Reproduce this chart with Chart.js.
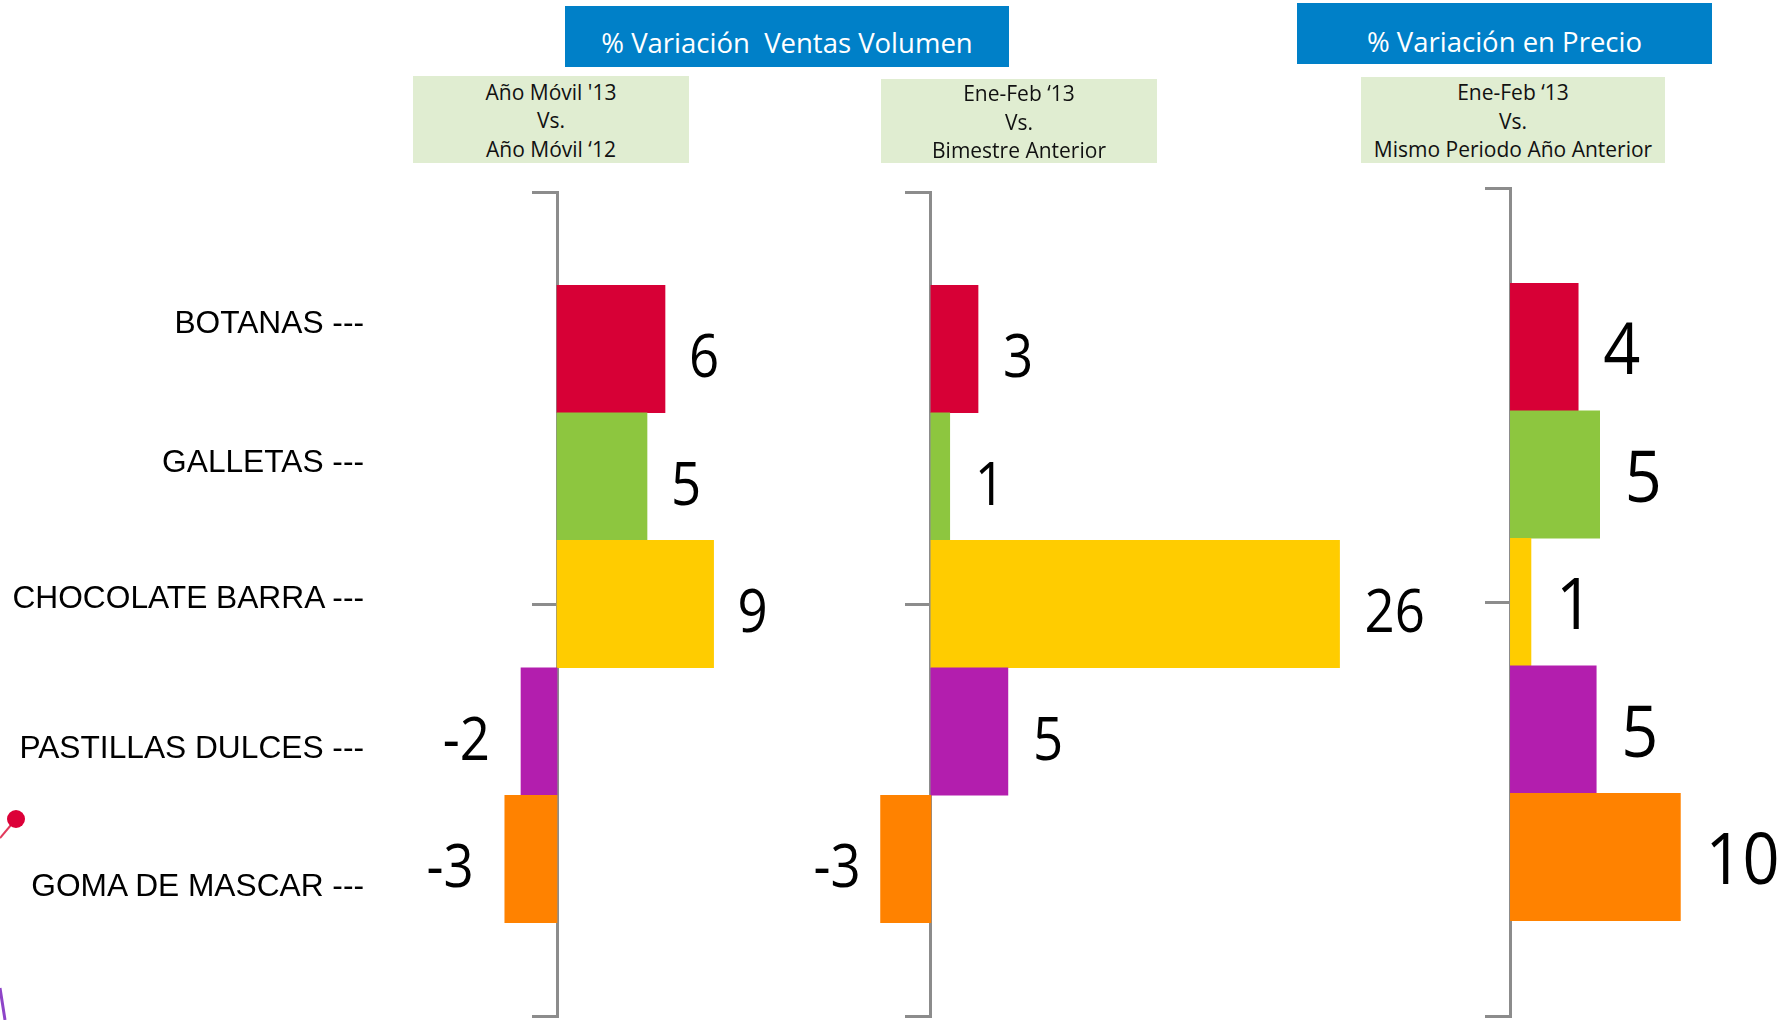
<!DOCTYPE html>
<html lang="es">
<head>
<meta charset="utf-8">
<title>% Variación Ventas Volumen y Precio</title>
<script src="https://cdn.jsdelivr.net/npm/chart.js@4.4.1/dist/chart.umd.min.js"></script>
<style>
    html, body { margin: 0; padding: 0; background: #fff; }
    #pagina { position: relative; width: 1784px; height: 1020px; overflow: hidden; font-family: 'Open Sans', sans-serif; }
    #pagina canvas { position: absolute; left: 0; top: 0; }
    .titulo { position: absolute; background: #0080c8; color: #fff; font-size: 27.5px; }
    .titulo span { position: absolute; left: 0; right: 0; text-align: center; line-height: 30px; white-space: pre; }
    .periodo { position: absolute; background: #e0edd1; color: #111; font-size: 21px; line-height: 28.5px; text-align: center; white-space: nowrap; }
    .cat { position: absolute; right: 1420px; font-family: 'Liberation Sans', Arial, sans-serif; font-size: 31.7px; line-height: 36px; white-space: nowrap; color: #000; }
    #deco { position: absolute; left: 0; top: 0; }
</style>
</head>
<body>
<div id="pagina">
    <svg id="deco" width="40" height="1020">
        <line x1="16" y1="819" x2="0" y2="838" stroke="#e23a5c" stroke-width="2"/>
        <circle cx="16" cy="819" r="9" fill="#dc0038"/>
        <line x1="0" y1="988" x2="5" y2="1020" stroke="#8e44c8" stroke-width="3"/>
    </svg>
    <canvas id="c1" width="1784" height="1020"></canvas>
    <canvas id="c2" width="1784" height="1020"></canvas>
    <canvas id="c3" width="1784" height="1020"></canvas>
</div>
<script>
/* ==========================================================================
   % variación volumen y precio por categoría · 3 paneles de barras horizontales
   ========================================================================== */
var categorias = ['BOTANAS', 'GALLETAS', 'CHOCOLATE BARRA', 'PASTILLAS DULCES', 'GOMA DE MASCAR'];

var volumenAnual = [6, 5, 8.7, -2, -2.9];
var volumenBimestre = [3, 1.2, 26, 4.9, -3.2];
var precioAnual = [3.95, 5.2, 1.2, 5, 9.9];

var titulos = ['% Variación  Ventas Volumen', '% Variación en Precio'];
var periodos = [
    ["Año Móvil '13", 'Vs.', 'Año Móvil ‘12'],
    ['Ene-Feb ‘13', 'Vs.', 'Bimestre Anterior'],
    ['Ene-Feb ‘13', 'Vs.', 'Mismo Periodo Año Anterior']
];

var colores = ['#d70036', '#8dc63f', '#ffcc00', '#b31eae', '#ff8200'];
var GRIS = '#8c8c8c';
var BANDA = 127.5; // alto de cada barra en px

(function () {
    function $(id) { return document.getElementById(id); }
    var pagina = $('pagina');

    // --- cajas de texto de encabezado
    var cajasTitulo = [
        { left: 565, top: 6, width: 444, height: 61, texto: 28 },
        { left: 1297, top: 3, width: 415, height: 61, texto: 27 }
    ];
    cajasTitulo.forEach(function (c, i) {
        var d = document.createElement('div');
        d.className = 'titulo';
        d.style.cssText += 'left:' + c.left + 'px;top:' + c.top + 'px;width:' + c.width + 'px;height:' + c.height + 'px;';
        var s = document.createElement('span');
        s.style.top = (c.texto - c.top) + 'px';
        s.textContent = titulos[i];
        d.appendChild(s);
        pagina.appendChild(d);
    });

    var cajasPeriodo = [
        { left: 413, top: 76, width: 276, height: 87, pad: 1.5 },
        { left: 881, top: 79, width: 276, height: 84, pad: 0 },
        { left: 1361, top: 77, width: 304, height: 86, pad: 1 }
    ];
    cajasPeriodo.forEach(function (c, i) {
        var d = document.createElement('div');
        d.className = 'periodo';
        d.style.cssText += 'left:' + c.left + 'px;top:' + c.top + 'px;width:' + c.width + 'px;height:' + (c.height - c.pad) + 'px;padding-top:' + c.pad + 'px;';
        d.innerHTML = periodos[i].join('<br>');
        pagina.appendChild(d);
    });

    // --- nombres de categoría (cajas de texto sueltas, no alineadas a las barras)
    var centrosCat = [322, 461, 597, 747, 885];
    categorias.forEach(function (nombre, i) {
        var d = document.createElement('div');
        d.className = 'cat';
        d.style.top = (centrosCat[i] - 18) + 'px';
        d.textContent = nombre + ' ---';
        pagina.appendChild(d);
    });

    // --- etiquetas de valor junto al extremo de cada barra (algo angostas, como Calibri)
    var etiquetas = {
        id: 'etiquetas',
        afterDatasetsDraw: function (chart) {
            var e = chart.options.plugins.etiquetas;
            var ctx = chart.ctx;
            var meta = chart.getDatasetMeta(0);
            var datos = chart.data.datasets[0].data;
            ctx.save();
            ctx.font = e.size + 'px "Open Sans"';
            ctx.fillStyle = '#000';
            ctx.textBaseline = 'alphabetic';
            meta.data.forEach(function (bar, i) {
                var v = datos[i].x;
                var neg = v < 0;
                ctx.save();
                ctx.translate(bar.x + (neg ? -e.gapNeg : e.gap), bar.y + e.dy);
                ctx.scale(e.ancho, 1);
                ctx.textAlign = neg ? 'right' : 'left';
                ctx.fillText(String(Math.round(v)), 0, 0);
                ctx.restore();
            });
            ctx.restore();
        }
    };

    var paneles = [
        { id: 'c1', valores: volumenAnual, xMin: -9, xMax: 13, area: { left: 395, right: 791, top: 192, bottom: 1016 },
          etiquetas: { size: 60, ancho: 0.88, gap: 24, gapNeg: 31, dy: 28 } },
        { id: 'c2', valores: volumenBimestre, xMin: -4, xMax: 28, area: { left: 868, right: 1371, top: 192, bottom: 1016 },
          etiquetas: { size: 60, ancho: 0.88, gap: 25, gapNeg: 20, dy: 28 } },
        { id: 'c3', valores: precioAnual, xMin: -2, xMax: 15, area: { left: 1476, right: 1768, top: 188, bottom: 1016 },
          etiquetas: { size: 72, ancho: 0.9, gap: 25, gapNeg: 25, dy: 27 } }
    ];

    paneles.forEach(function (p) {
        var a = p.area;
        var mitad = (a.bottom - a.top) / 2 / BANDA;
        var yMin = 2 - mitad, yMax = 2 + mitad;

        new Chart($(p.id), {
            type: 'bar',
            data: {
                datasets: [{
                    data: p.valores.map(function (v, i) { return { x: v, y: i }; }),
                    backgroundColor: colores,
                    borderWidth: 0,
                    categoryPercentage: 1,
                    barPercentage: 1
                }]
            },
            options: {
                indexAxis: 'y',
                responsive: false,
                animation: false,
                events: [],
                layout: { padding: { left: a.left, right: 1784 - a.right, top: a.top, bottom: 1020 - a.bottom } },
                plugins: { legend: { display: false }, tooltip: { enabled: false }, etiquetas: p.etiquetas },
                scales: {
                    x: { type: 'linear', display: false, min: p.xMin, max: p.xMax },
                    y: {
                        type: 'linear',
                        reverse: true,
                        offset: false,
                        min: yMin,
                        max: yMax,
                        position: { x: 0 },
                        z: 1,
                        afterBuildTicks: function (scale) {
                            scale.ticks = [{ value: yMin }, { value: 2 }, { value: yMax }];
                        },
                        ticks: { display: false },
                        grid: { offset: false, drawOnChartArea: false, drawTicks: true, tickLength: 24, color: GRIS, lineWidth: 3 },
                        border: { display: true, color: GRIS, width: 3 }
                    }
                }
            },
            plugins: [etiquetas]
        });
    });
})();
</script>
</body>
</html>
